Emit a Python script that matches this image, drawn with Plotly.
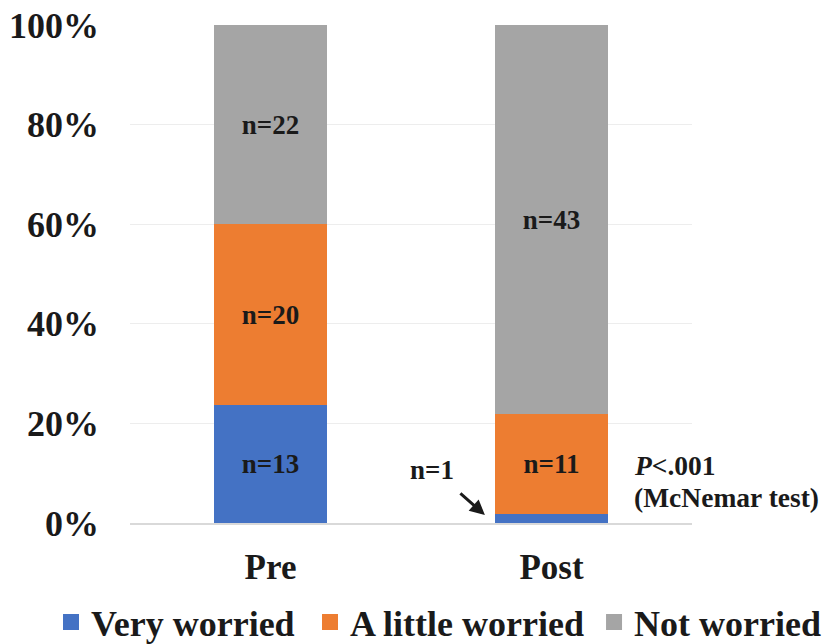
import plotly.graph_objects as go

groups = ["Pre", "Post"]
series_names = ["Very worried", "A little worried", "Not worried"]
very_worried = [13, 1]
little_worried = [20, 11]
not_worried = [22, 43]
colors = ["#4472C4", "#ED7D31", "#A5A5A5"]
y_ticks = [0, 20, 40, 60, 80, 100]

FONT = "Liberation Serif"
INK = "#1a1a1a"

fig = go.Figure()
for name, vals, col in zip(series_names, [very_worried, little_worried, not_worried], colors):
    labels = [f"<b>n={v}</b>" if v >= 5 else "" for v in vals]
    fig.add_trace(go.Bar(
        x=groups, y=vals, name=name, marker=dict(color=col, line=dict(width=0)),
        text=labels, textposition="inside", insidetextanchor="middle", textangle=0,
        insidetextfont=dict(family=FONT, size=27, color=INK),
        hoverinfo="skip", showlegend=False,
    ))

# legend entries (one legend per series so they sit on one row)
legend_ids = ["legend", "legend2", "legend3"]
legend_x = [0.062, 0.3767, 0.7218]
for name, col, lid in zip(series_names, colors, legend_ids):
    fig.add_trace(go.Scatter(
        x=[None], y=[None], mode="markers", name=f"<b>{name}</b>",
        marker=dict(symbol="square", size=16, color=col), legend=lid, showlegend=True,
        hoverinfo="skip",
    ))

legend_common = dict(orientation="h", xref="container", xanchor="left",
                     yref="container", y=0.034, yanchor="middle",
                     font=dict(family=FONT, size=36, color=INK),
                     bgcolor="rgba(0,0,0,0)", borderwidth=0)

fig.update_layout(
    barmode="stack", barnorm="percent", bargap=0.6,
    width=823, height=644,
    margin=dict(l=130, r=131, t=25, b=121, autoexpand=False),
    plot_bgcolor="white", paper_bgcolor="white",
    font=dict(family=FONT, color=INK),
    showlegend=True,
    legend=dict(x=legend_x[0], **legend_common),
    legend2=dict(x=legend_x[1], **legend_common),
    legend3=dict(x=legend_x[2], **legend_common),
    uniformtext=dict(minsize=27, mode="show"),
)
fig.update_yaxes(range=[0, 100], tickvals=y_ticks, ticktext=[f"<b>{t}%</b>" for t in y_ticks],
                 showgrid=True, gridcolor="#EDEDED", gridwidth=1, zeroline=False,
                 showline=False, ticks="", ticklabelstandoff=30, automargin=False,
                 ticklabeloverflow="allow",
                 tickfont=dict(family=FONT, size=36, color=INK))
fig.update_xaxes(showline=True, linecolor="#D9D9D9", linewidth=1.5, ticks="",
                 tickvals=groups, ticktext=[f"<b>{g}</b>" for g in groups],
                 ticklabelstandoff=12, automargin=False,
                 tickfont=dict(family=FONT, size=35, color=INK))

# n=1 label with arrow
fig.add_annotation(x=0.763, y=1.6, xref="x", yref="y", text="", showarrow=True,
                   ax=-26, ay=-23, arrowhead=2, arrowsize=1, arrowwidth=3, arrowcolor=INK)
fig.add_annotation(x=0.575, y=10.6, xref="x", yref="y", text="<b>n=1</b>", showarrow=False,
                   font=dict(family=FONT, size=27, color=INK))
fig.add_annotation(x=0.893, y=11.6, xref="paper", yref="y", xanchor="left", yanchor="middle",
                   align="left", showarrow=False,
                   text="<b><i>P</i>&lt;.001</b>",
                   font=dict(family=FONT, size=27.5, color=INK))
fig.add_annotation(x=0.893, y=5.2, xref="paper", yref="y", xanchor="left", yanchor="middle",
                   align="left", showarrow=False,
                   text="<b>(McNemar test)</b>",
                   font=dict(family=FONT, size=27.5, color=INK))

fig.write_html(
    "out.html",
    config={"displayModeBar": False},
    post_script="document.body.style.margin='0';document.body.style.overflow='hidden';",
)
